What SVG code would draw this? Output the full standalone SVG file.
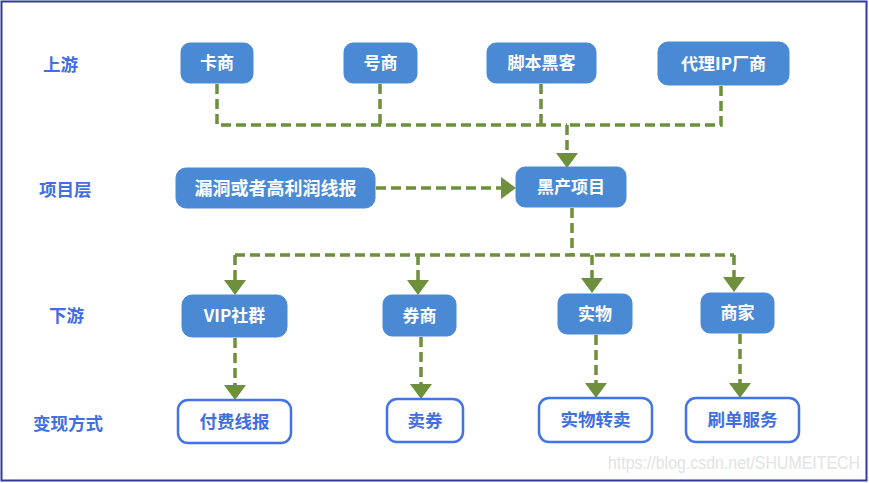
<svg xmlns="http://www.w3.org/2000/svg" width="869" height="483" viewBox="0 0 869 483">
<defs>
<style>
.bg{fill:#ffffff}
.frame{fill:none;stroke:#2f3b9a;stroke-width:2}
.n rect{fill:#4a89d3;stroke:#4a89d3;stroke-width:1}
.n text{fill:#ffffff;font-family:"Noto Sans CJK SC","Noto Sans",sans-serif;font-weight:bold;font-size:17px;text-anchor:middle}
.o rect{fill:#ffffff;stroke:#4174e6;stroke-width:2.5}
.o text{fill:#3f6fe0;font-family:"Noto Sans CJK SC","Noto Sans",sans-serif;font-weight:bold;font-size:17.5px;text-anchor:middle}
.lbl{fill:#3f6fe0;font-family:"Noto Sans CJK SC","Noto Sans",sans-serif;font-weight:bold;font-size:17.5px}
.c{fill:none;stroke:#6e8f3b;stroke-width:3.5;stroke-dasharray:10 5}
.wm{fill:#e3e3e3;font-family:"Liberation Sans",Arial,sans-serif;font-size:18px}
</style>
<marker id="ah" markerUnits="userSpaceOnUse" viewBox="0 0 15 22" markerWidth="15" markerHeight="22" refX="11" refY="11" orient="auto">
<path d="M0,0 L15,11 L0,22 z" fill="#6e8f3b"/>
</marker>
</defs>
<rect class="bg" x="0" y="0" width="869" height="483"/>
<rect class="frame" x="1.5" y="1.5" width="865" height="479"/>

<g id="labels">
<text class="lbl" x="43" y="71">上游</text>
<text class="lbl" x="39" y="196">项目层</text>
<text class="lbl" x="49" y="322">下游</text>
<text class="lbl" x="33" y="430">变现方式</text>
</g>

<g id="connectors">
<path class="c" d="M217,84 V125 H567"/>
<path class="c" d="M380,84 V125"/>
<path class="c" d="M541,84 V125"/>
<path class="c" d="M721,86 V125 H567"/>
<path class="c" d="M567,125 V164" marker-end="url(#ah)"/>
<path class="c" d="M376,188 H512" marker-end="url(#ah)"/>
<path class="c" d="M572,208 V255"/>
<path class="c" d="M235,255 H734"/>
<path class="c" d="M235,255 V291" marker-end="url(#ah)"/>
<path class="c" d="M418,255 V291" marker-end="url(#ah)"/>
<path class="c" d="M592,255 V289" marker-end="url(#ah)"/>
<path class="c" d="M734,255 V288" marker-end="url(#ah)"/>
<path class="c" d="M235,338 V396" marker-end="url(#ah)"/>
<path class="c" d="M421,337 V395" marker-end="url(#ah)"/>
<path class="c" d="M596,335 V394" marker-end="url(#ah)"/>
<path class="c" d="M740,334 V394" marker-end="url(#ah)"/>
</g>

<g id="kashang" class="n"><rect x="181" y="43" width="72" height="40" rx="9"/><text x="217" y="69">卡商</text></g>
<g id="haoshang" class="n"><rect x="344" y="43" width="73" height="40" rx="9"/><text x="380.5" y="69">号商</text></g>
<g id="jiaoben" class="n"><rect x="487" y="43" width="109" height="40" rx="9"/><text x="541.5" y="69">脚本黑客</text></g>
<g id="dailiip" class="n"><rect x="658" y="42" width="131" height="43" rx="10"/><text x="723.5" y="69.5">代理IP厂商</text></g>
<g id="loudong" class="n"><rect x="176" y="168" width="199" height="40" rx="10"/><text x="275.5" y="194.5" style="font-size:18px">漏洞或者高利润线报</text></g>
<g id="heichan" class="n"><rect x="516" y="167" width="110" height="40" rx="9"/><text x="571" y="193">黑产项目</text></g>
<g id="vip" class="n"><rect x="182" y="295" width="105" height="42" rx="10"/><text x="234.5" y="322">VIP社群</text></g>
<g id="quanshang" class="n"><rect x="383" y="295" width="73" height="41" rx="9"/><text x="419.5" y="321.5">券商</text></g>
<g id="shiwu" class="n"><rect x="558" y="294" width="74" height="40" rx="9"/><text x="595" y="320">实物</text></g>
<g id="shangjia" class="n"><rect x="701" y="293" width="73" height="40" rx="9"/><text x="737.5" y="319">商家</text></g>

<g id="fufei" class="o"><rect x="178" y="400" width="113" height="43" rx="10"/><text x="234.5" y="427.5">付费线报</text></g>
<g id="maiquan" class="o"><rect x="387" y="399" width="76" height="43" rx="10"/><text x="425" y="426.5">卖券</text></g>
<g id="zhuanmai" class="o"><rect x="539" y="398" width="113" height="44" rx="10"/><text x="595.5" y="426">实物转卖</text></g>
<g id="shuadan" class="o"><rect x="686" y="398" width="113" height="44" rx="10"/><text x="742.5" y="426">刷单服务</text></g>

<text class="wm" x="608" y="469" textLength="252" lengthAdjust="spacingAndGlyphs">https://blog.csdn.net/SHUMEITECH</text>
</svg>
